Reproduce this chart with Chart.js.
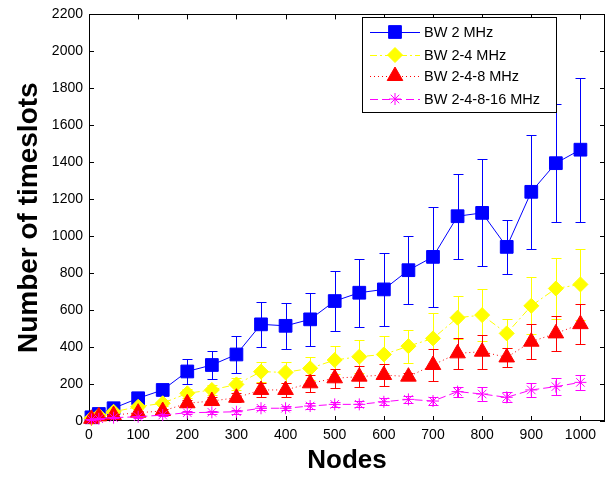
<!DOCTYPE html>
<html><head><meta charset="utf-8">
<script src="https://cdn.jsdelivr.net/npm/chart.js@4"></script>
<style>html,body{margin:0;padding:0;background:#fff}#wrap{width:615px;height:477px;position:relative}</style>
</head><body><div id="wrap"><canvas id="c" width="615" height="477"></canvas></div>
<script>
const nodes = [5,20,50,100,150,200,250,300,350,400,450,500,550,600,650,700,750,800,850,900,950,1000];
const xTicks = [0,100,200,300,400,500,600,700,800,900,1000];
const yTicks = [0,200,400,600,800,1000,1200,1400,1600,1800,2000,2200];
const seriesNames = ['BW 2 MHz','BW 2-4 MHz','BW 2-4-8 MHz','BW 2-4-8-16 MHz'];
const bw2     = [20,38,69,123,168,268,303,360,523,515,550,649,694,712,816,888,1108,1126,942,1240,1395,1468];
const bw2Err  = [5,10,15,20,25,70,78,98,122,124,144,163,183,199,184,270,230,289,146,310,318,390];
const bw24    = [15,30,50,77,96,150,168,198,267,263,285,330,348,360,405,447,559,573,474,623,717,739];
const bw24Err = [3,6,8,12,15,25,28,32,54,58,63,74,88,98,90,140,115,139,79,154,166,191];
const bw248   = [12,25,32,45,54,96,108,126,168,168,204,231,240,249,240,303,366,375,344,429,474,524];
const bw248Err= [3,5,6,8,10,18,20,25,40,40,45,52,56,62,20,85,82,92,53,96,95,110];
const bw2481  = [8,12,18,23,32,45,47,50,69,69,81,90,90,104,117,108,159,146,128,168,186,209];
const bw2481Err=[2,3,4,5,6,8,9,10,12,12,14,15,16,18,18,20,27,40,27,38,45,40];

const colors = ['#0000ff','#ffff00','#ff0000','#ff00ff'];
const dashes = [[],[7,3,2,3],[1,3],[8,4]];
const styles = ['rect','rectRot','triangle','star'];
const radii = [9,7.5,9,6];
const values = [bw2,bw24,bw248,bw2481];
const errs = [bw2Err,bw24Err,bw248Err,bw2481Err];

const datasets = values.map((v,i)=>({
  label: seriesNames[i],
  data: nodes.map((n,j)=>({x:n,y:v[j]})),
  borderColor: colors[i],
  backgroundColor: colors[i],
  borderWidth: 1,
  borderDash: dashes[i],
  pointStyle: styles[i],
  pointRadius: radii[i],
  pointBorderColor: colors[i],
  pointBackgroundColor: i===3 ? 'rgba(0,0,0,0)' : colors[i],
  pointBorderWidth: 1,
  pointHoverRadius: radii[i],
  fill: false,
  tension: 0,
  clip: false,
  order: 4-i,
  errIndex: i
}));

const matlab = {
  id: 'matlab',
  beforeDatasetsDraw(chart){
    const ctx = chart.ctx, a = chart.chartArea, xs = chart.scales.x, ys = chart.scales.y;
    ctx.save();
    ctx.strokeStyle = '#000'; ctx.lineWidth = 1;
    ctx.strokeRect(Math.round(a.left)+0.5, Math.round(a.top)+0.5, Math.round(a.right-a.left)-1, Math.round(a.bottom-a.top)-1);
    ctx.beginPath();
    xTicks.forEach(t=>{
      const px = Math.round(xs.getPixelForValue(t))+0.5;
      ctx.moveTo(px,a.bottom); ctx.lineTo(px,a.bottom-5);
      ctx.moveTo(px,a.top); ctx.lineTo(px,a.top+5);
    });
    yTicks.forEach(t=>{
      const py = Math.round(ys.getPixelForValue(t))+0.5;
      ctx.moveTo(a.left,py); ctx.lineTo(a.left+5,py);
      ctx.moveTo(a.right,py); ctx.lineTo(a.right-5,py);
    });
    ctx.stroke();
    ctx.restore();
  },
  beforeDatasetDraw(chart, args){
    const i = chart.data.datasets[args.index].errIndex;
    const ctx = chart.ctx, xs = chart.scales.x, ys = chart.scales.y;
    ctx.save();
    ctx.strokeStyle = colors[i]; ctx.lineWidth = 1;
    ctx.beginPath();
    nodes.forEach((n,j)=>{
      const px = Math.round(xs.getPixelForValue(n))+0.5;
      const y1 = Math.round(ys.getPixelForValue(values[i][j]+errs[i][j]))+0.5;
      const y2 = Math.round(ys.getPixelForValue(Math.max(0,values[i][j]-errs[i][j])))+0.5;
      ctx.moveTo(px,y1); ctx.lineTo(px,y2);
      ctx.moveTo(px-5,y1); ctx.lineTo(px+5,y1);
      ctx.moveTo(px-5,y2); ctx.lineTo(px+5,y2);
    });
    ctx.stroke();
    ctx.restore();
  },
  afterDraw(chart){
    const ctx = chart.ctx;
    ctx.save();
    const L=362.5, T=17.5, W=194, H=95;
    ctx.fillStyle='#fff'; ctx.fillRect(L,T,W,H);
    ctx.strokeStyle='#000'; ctx.lineWidth=1; ctx.strokeRect(L,T,W,H);
    const rows=[32,55,76,99];
    rows.forEach((y,i)=>{
      ctx.save();
      ctx.strokeStyle=colors[i]; ctx.lineWidth=1; ctx.setLineDash(dashes[i]);
      ctx.beginPath(); ctx.moveTo(370,y+0.5); ctx.lineTo(420,y+0.5); ctx.stroke();
      ctx.restore();
      ctx.fillStyle = i===3 ? 'rgba(0,0,0,0)' : colors[i];
      ctx.strokeStyle = colors[i]; ctx.lineWidth=1;
      Chart.helpers.drawPoint(ctx,{pointStyle:styles[i],radius:radii[i],rotation:0,borderWidth:1},395,y);
      ctx.fillStyle='#000'; ctx.font='14.5px "Liberation Sans", Arial, sans-serif';
      ctx.textBaseline='middle'; ctx.textAlign='left';
      ctx.fillText(seriesNames[i],424,y+1);
    });
    ctx.restore();
  }
};

const plain = v => String(v);

new Chart(document.getElementById('c'),{
  type:'line',
  data:{datasets},
  plugins:[matlab],
  options:{
    responsive:false, animation:false, devicePixelRatio:1,
    layout:{padding:{left:0,top:14,right:4,bottom:0}},
    plugins:{legend:{display:false},tooltip:{enabled:false}},
    elements:{line:{borderWidth:1}},
    scales:{
      x:{type:'linear',min:0,max:1050,
        afterFit(s){s.height=56;},
        afterBuildTicks(s){s.ticks = xTicks.map(v=>({value:v}));},
        grid:{display:false,drawTicks:false}, border:{display:false},
        ticks:{callback:plain,font:{family:'"Liberation Sans", Arial, sans-serif',size:14},color:'#000',padding:6,maxRotation:0,autoSkip:false},
        title:{display:true,text:'Nodes',color:'#000',font:{family:'"Liberation Sans", Arial, sans-serif',size:26,weight:'bold'},padding:{top:0,bottom:1}}
      },
      y:{type:'linear',min:0,max:2200,
        afterFit(s){s.width=89;},
        afterBuildTicks(s){s.ticks = yTicks.map(v=>({value:v}));},
        grid:{display:false,drawTicks:false}, border:{display:false},
        ticks:{callback:plain,font:{family:'"Liberation Sans", Arial, sans-serif',size:14},color:'#000',padding:6,autoSkip:false},
        title:{display:true,text:'Number of timeslots',color:'#000',font:{family:'"Liberation Sans", Arial, sans-serif',size:28,weight:'bold'},padding:{top:12,bottom:0}}
      }
    }
  }
});
</script></body></html>
